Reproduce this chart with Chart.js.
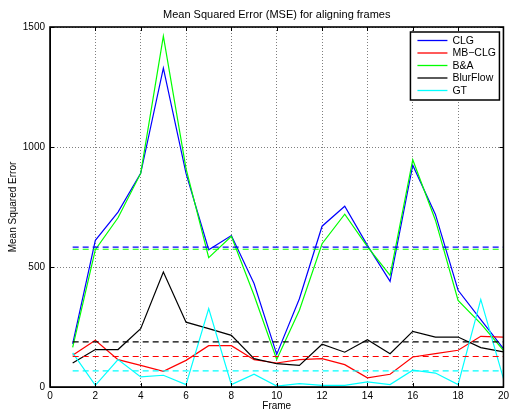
<!DOCTYPE html>
<html>
<head>
<meta charset="utf-8">
<script src="https://cdn.jsdelivr.net/npm/chart.js@4.4.1/dist/chart.umd.min.js"></script>
<style>
  html, body { margin: 0; padding: 0; background: #fff; }
  #wrap { width: 512px; height: 412px; }
</style>
</head>
<body>
<div id="wrap"><canvas id="mseChart" width="512" height="412"></canvas></div>
<script>
var frames   = [1, 2, 3, 4, 5, 6, 7, 8, 9, 10, 11, 12, 13, 14, 15, 16, 17, 18, 19, 20];
var clg      = [180, 611, 729, 890, 1329, 890, 572, 631, 431, 136, 368, 670, 753, 590, 440, 924, 719, 403, 281, 160];
var mbclg    = [132, 195, 114, 90, 65, 111, 172, 172, 114, 100, 114, 118, 93, 38, 53, 125, 139, 153, 211, 208];
var ba       = [165, 572, 705, 890, 1462, 910, 539, 628, 382, 115, 320, 597, 720, 585, 465, 947, 695, 361, 264, 153];
var blurflow = [100, 156, 156, 243, 479, 270, 243, 215, 118, 97, 90, 178, 145, 197, 139, 232, 208, 208, 164, 146];
var gt       = [142, 7, 114, 42, 49, 10, 327, 10, 53, 4, 14, 7, 7, 21, 10, 70, 58, 10, 365, 35];

// mean levels (dashed lines)
var seriesNames = ['CLG', 'MB\u2212CLG', 'B&A', 'BlurFlow', 'GT'];
var seriesMeans = [583, 127, 574, 188, 67];
var seriesColors = ['#0000ff', '#ff0000', '#00ff00', '#000000', '#00ffff'];

var xTicks = [0, 2, 4, 6, 8, 10, 12, 14, 16, 18, 20];
var yTicks = [0, 500, 1000, 1500];

var FONT = "'Liberation Sans', Arial, Helvetica, sans-serif";
Chart.defaults.font.family = FONT;
Chart.defaults.color = '#000';

function toPoints(values) {
    return frames.map(function (f, i) { return { x: f, y: values[i] }; });
}

function meanLine(m) {
    return [{ x: frames[0], y: m }, { x: frames[frames.length - 1], y: m }];
}

var allSeries = [clg, mbclg, ba, blurflow, gt];
var datasets = [];
allSeries.forEach(function (vals, i) {
    datasets.push({
        label: seriesNames[i],
        data: toPoints(vals),
        borderColor: seriesColors[i],
        borderWidth: 1.2,
        pointRadius: 0,
        fill: false,
        lineTension: 0,
        order: 20 - i
    });
});
seriesMeans.forEach(function (m, i) {
    datasets.push({
        label: seriesNames[i] + ' mean',
        data: meanLine(m),
        borderColor: seriesColors[i],
        borderWidth: 1.2,
        borderDash: [6, 4],
        pointRadius: 0,
        fill: false,
        order: 10 - i,
        isMean: true
    });
});

// title, box, inward ticks and the boxed legend
var matlabLook = {
    id: 'matlabLook',
    afterDraw: function (chart) {
        var ctx = chart.ctx;
        var a = chart.chartArea;
        var xs = chart.scales.x, ys = chart.scales.y;
        ctx.save();

        // title
        ctx.fillStyle = '#000';
        ctx.font = '11px ' + FONT;
        ctx.textAlign = 'center';
        ctx.textBaseline = 'middle';
        ctx.fillText('Mean Squared Error (MSE) for aligning frames', (a.left + a.right) / 2, 15);

        // inward tick marks
        ctx.strokeStyle = '#000';
        ctx.lineWidth = 1;
        ctx.beginPath();
        xTicks.forEach(function (t) {
            var px = Math.round(xs.getPixelForValue(t)) + 0.5;
            ctx.moveTo(px, a.bottom); ctx.lineTo(px, a.bottom - 4);
            ctx.moveTo(px, a.top); ctx.lineTo(px, a.top + 4);
        });
        yTicks.forEach(function (t) {
            var py = Math.round(ys.getPixelForValue(t)) + 0.5;
            ctx.moveTo(a.left, py); ctx.lineTo(a.left + 4, py);
            ctx.moveTo(a.right, py); ctx.lineTo(a.right - 4, py);
        });
        ctx.stroke();

        // axes box
        ctx.lineWidth = 1.6;
        ctx.strokeRect(a.left, a.top, a.right - a.left, a.bottom - a.top);

        // legend
        var bx = a.right - 93, by = a.top + 5, bw = 89, bh = 68;
        ctx.fillStyle = '#fff';
        ctx.fillRect(bx, by, bw, bh);
        ctx.lineWidth = 1.5;
        ctx.strokeStyle = '#000';
        ctx.strokeRect(bx, by, bw, bh);
        ctx.font = '10.5px ' + FONT;
        ctx.textAlign = 'left';
        ctx.textBaseline = 'middle';
        chart.data.datasets.forEach(function (ds, i) {
            if (ds.isMean) return;
            var ry = by + 8.5 + i * 12.5;
            ctx.strokeStyle = ds.borderColor;
            ctx.lineWidth = 1.3;
            ctx.beginPath();
            ctx.moveTo(bx + 7, ry);
            ctx.lineTo(bx + 37, ry);
            ctx.stroke();
            ctx.fillStyle = '#000';
            ctx.fillText(ds.label, bx + 42, ry + 0.5);
        });
        ctx.restore();
    }
};

new Chart(document.getElementById('mseChart').getContext('2d'), {
    type: 'line',
    data: { datasets: datasets },
    options: {
        responsive: false,
        animation: false,
        layout: { padding: { top: 27, right: 4, left: 0, bottom: 0 } },
        plugins: {
            legend: { display: false },
            title: { display: false },
            tooltip: { enabled: false }
        },
        scales: {
            x: {
                type: 'linear',
                min: 0,
                max: 20,
                afterFit: function (s) { s.height = 25; },
                afterBuildTicks: function (s) { s.ticks = xTicks.map(function (v) { return { value: v }; }); },
                ticks: {
                    font: { size: 10 },
                    padding: 3,
                    maxRotation: 0,
                    callback: function (v) { return String(v); }
                },
                grid: { color: 'rgba(0,0,0,0.5)', lineWidth: 1, drawTicks: false },
                border: { display: true, color: '#000', width: 1, dash: [1, 2] },
                title: { display: true, text: 'Frame', font: { size: 10 }, padding: { top: 0, bottom: 0 } }
            },
            y: {
                type: 'linear',
                min: 0,
                max: 1500,
                afterFit: function (s) { s.width = 50; },
                afterBuildTicks: function (s) { s.ticks = yTicks.map(function (v) { return { value: v }; }); },
                ticks: {
                    font: { size: 10 },
                    padding: 5,
                    callback: function (v) { return String(v); }
                },
                grid: { color: 'rgba(0,0,0,0.5)', lineWidth: 1, drawTicks: false },
                border: { display: true, color: '#000', width: 1, dash: [1, 2] },
                title: { display: true, text: 'Mean Squared Error', font: { size: 10 }, padding: { top: 7, bottom: 0 } }
            }
        }
    },
    plugins: [matlabLook]
});
</script>
</body>
</html>
